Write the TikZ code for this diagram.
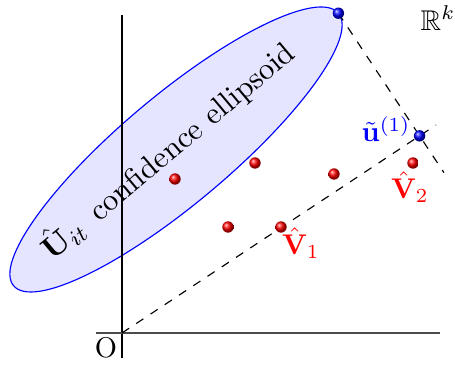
\documentclass[tikz,border=0pt]{standalone}
\usepackage{amsmath,amssymb}
\usetikzlibrary{calc}
\tikzset{
  redball/.style={circle, inner sep=0pt, minimum size=4pt, shading=ball, ball color=red},
  blueball/.style={circle, inner sep=0pt, minimum size=4pt, shading=ball, ball color=blue},
  dashline/.style={dashed, thin},
}
\begin{document}
\begin{tikzpicture}[x=0.3509pt,y=0.3509pt]
\useasboundingbox (0,0) rectangle (455,365);
\coordinate (C) at (176,215.5);
\draw[blue, fill=blue!10, rotate around={40:(C)}] (C) ellipse [x radius=212, y radius=54.3];
% axes
\coordinate (O) at (122,32);
\draw[black] (122,350) -- (122,7);
\draw[black!70] (96,32) -- (440,32);
% dashed lines
\coordinate (T) at ($(C)+(40:212)$);
\coordinate (E) at (436,240);
\coordinate (U) at ($(O)!(T)!(E)$);
\coordinate (F) at ($(T)!1.3!(U)$);
\draw[dashline] (O) -- (E);
\draw[dashline] (T) -- (F);
% text
\node[rotate=40, font=\fontsize{10.8}{13}\selectfont] (lbl) at (167,215) {$\hat{\mathbf U}_{it}$\, confidence ellipsoid};
% balls
\node[blueball] (t) at (T) {};
\node[blueball] (u) at (U) {};
\node[redball] (r1) at (175,186) {};
\node[redball] (r2) at (255,202) {};
\node[redball] (r3) at (334,191) {};
\node[redball] (r4) at (228,138) {};
\node[redball] (r5) at (281,138) {};
\node[redball] (r6) at (413,202) {};
% labels
\node[blue] (ul) at (386,236) {$\tilde{\mathbf u}^{(1)}$};
\node[red] (v2) at (410,178) {$\hat{\mathbf V}_2$};
\node[red] (v1) at (301,122) {$\hat{\mathbf V}_1$};
\node (rk) at (438,347) {$\mathbb{R}^k$};
\node (o) at (106,17) {O};
\end{tikzpicture}
\end{document}
